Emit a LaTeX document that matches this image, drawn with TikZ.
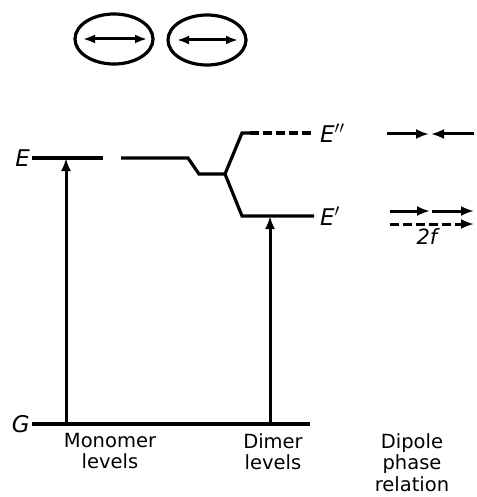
\documentclass[tikz,border=0pt]{standalone}
\usepackage{fontspec}
\setmainfont{DejaVu Sans}
\usetikzlibrary{arrows.meta,shapes.geometric}
\begin{document}
\begin{tikzpicture}[x=1pt,y=-1pt,
  lvl/.style={line width=3.2pt},
  vline/.style={line width=3pt},
  tip/.style={-{Latex[length=13pt,width=10pt]}},
  dtip/.style={{Latex[length=12pt,width=9pt]}-{Latex[length=12pt,width=9pt]}},
  sym/.style={font=\fontsize{23}{25}\selectfont\itshape, inner sep=0pt},
  captxt/.style={font=\fontsize{19.5}{21.5}\selectfont, align=center, inner sep=0pt, anchor=north},
  dashd/.style={dash pattern=on 9pt off 4pt}
]
\useasboundingbox (0,0) rectangle (476,497);
% molecules
\node[draw, line width=3.2pt, ellipse, minimum width=78pt, minimum height=50pt, inner sep=0pt] (m1) at (114,39) {};
\node[draw, line width=3.2pt, ellipse, minimum width=78pt, minimum height=50pt, inner sep=0pt] (m2) at (207,40) {};
\coordinate (m1a) at (83,39); \coordinate (m1b) at (147,39);
\coordinate (m2a) at (177,40); \coordinate (m2b) at (238,40);
\draw[vline, dtip] (m1a) -- (m1b);
\draw[vline, dtip] (m2a) -- (m2b);
% labels
\node[sym, anchor=east] (E) at (30,158) {E};
\node[sym, anchor=east] (G) at (30,424) {G};
\node[sym, anchor=west] (Epp) at (320,133) {E$''$};
\node[sym, anchor=west] (Ep) at (320,216) {E$'$};
% level coordinates
\coordinate (e0) at (32,158); \coordinate (e1) at (103,158);
\coordinate (e2) at (121,158); \coordinate (e3) at (188,158);
\coordinate (e4) at (199,174); \coordinate (e5) at (225,174);
\coordinate (u1) at (242,133); \coordinate (u2) at (250,133); \coordinate (u3) at (314,133);
\coordinate (l1) at (242,216); \coordinate (l2) at (314,216);
\coordinate (g0) at (32,424); \coordinate (g1) at (310,424);
\coordinate (ma) at (66,424); \coordinate (mb) at (66,158);
\coordinate (da) at (270,424); \coordinate (db) at (270,216);
\draw[lvl] (e0) -- (e1);
\draw[lvl, line join=miter] (e2) -- (e3) -- (e4) -- (e5) -- (u1) -- (u2);
\draw[lvl, dashd] (u2) -- (u3);
\draw[lvl, line join=miter] (e5) -- (l1) -- (l2);
\draw[lvl] (g0) -- (g1);
\draw[vline, tip] (ma) -- (mb);
\draw[vline, tip] (da) -- (db);
% dipole phase relations
\coordinate (p1) at (387,134); \coordinate (p2) at (429,134);
\coordinate (p3) at (474,134); \coordinate (p4) at (431,134);
\coordinate (q1) at (390,211); \coordinate (q2) at (430,211);
\coordinate (q3) at (432,211); \coordinate (q4) at (474,211);
\coordinate (r1) at (390,224); \coordinate (r2) at (474,224);
\draw[vline, tip] (p1) -- (p2);
\draw[vline, tip] (p3) -- (p4);
\draw[vline, tip] (q1) -- (q2);
\draw[vline, tip] (q3) -- (q4);
\draw[vline, dashd, tip] (r1) -- (r2);
\node[sym, anchor=north, font=\fontsize{21}{23}\selectfont\itshape] (tf) at (427,228) {2f};
% captions
\node[captxt] (mon) at (110,433) {Monomer\\levels};
\node[captxt] (dim) at (273,433) {Dimer\\levels};
\node[captxt] (dip) at (412,433) {Dipole\\phase\\relation};
\end{tikzpicture}
\end{document}
